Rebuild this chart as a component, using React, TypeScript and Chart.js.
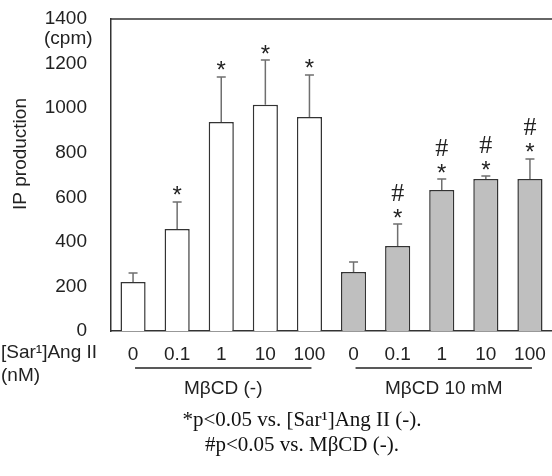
import { useEffect, useRef } from 'react';
import { Chart, registerables } from 'chart.js';

Chart.register(...registerables);

// ---- data ----
const doses = ['0', '0.1', '1', '10', '100', '0', '0.1', '1', '10', '100'];
const ipMeans = [220, 458, 938, 1015, 960, 265, 381, 633, 682, 682];
const ipErrors = [40, 121, 202, 201, 189, 45, 99, 49, 13, 90];
const starFlags = [false, true, true, true, true, false, true, true, true, true];
const hashFlags = [false, false, false, false, false, false, true, true, true, true];
const groupLabels = ['MβCD (-)', 'MβCD 10 mM'];
const groupStarts = [0, 5];
const groupEnds = [4, 9];
const yMin = 0;
const yMax = 1400;
const yStep = 200;
const yTitle = 'IP production';
const yUnit = '(cpm)';
const xTitleLines = ['[Sar¹]Ang II', '(nM)'];
const footnotes = ['*p<0.05 vs. [Sar¹]Ang II (-).', '#p<0.05 vs. MβCD (-).'];

// ---- styles ----
const SANS = '"Liberation Sans", Arial, sans-serif';
const SERIF = '"Liberation Serif", "Times New Roman", serif';
const TEXT = '#222222';
const AXIS = '#333333';
const WHITE_FILL = '#ffffff';
const GRAY_FILL = '#bfbfbf';
const barFills = ipMeans.map((_, i) => (i < 5 ? WHITE_FILL : GRAY_FILL));

function textCentered(ctx: CanvasRenderingContext2D, text: string, x: number, y: number, align: CanvasTextAlign = 'center') {
  ctx.textAlign = align;
  ctx.textBaseline = 'alphabetic';
  const m = ctx.measureText(text);
  const asc = m.actualBoundingBoxAscent;
  const desc = m.actualBoundingBoxDescent;
  ctx.fillText(text, x, y + (asc - desc) / 2);
}

const decorPlugin = {
  id: 'decor',
  afterDatasetsDraw(chart: any) {
    const ctx: CanvasRenderingContext2D = chart.ctx;
    const meta = chart.getDatasetMeta(0);
    const yScale = chart.scales.y;
    ctx.save();
    ctx.strokeStyle = '#6f6f6f';
    ctx.lineWidth = 1.5;
    meta.data.forEach((bar: any, i: number) => {
      const x = bar.x;
      const yTop = yScale.getPixelForValue(ipMeans[i] + ipErrors[i]);
      const yBar = yScale.getPixelForValue(ipMeans[i]);
      ctx.beginPath();
      ctx.moveTo(x, yBar);
      ctx.lineTo(x, yTop);
      ctx.moveTo(x - 4.5, yTop);
      ctx.lineTo(x + 4.5, yTop);
      ctx.stroke();
      ctx.fillStyle = TEXT;
      const starY = yTop - 11;
      if (starFlags[i]) {
        ctx.font = `24px ${SANS}`;
        textCentered(ctx, '*', x, starY);
      }
      if (hashFlags[i]) {
        ctx.font = `26px ${SERIF}`;
        textCentered(ctx, '#', x, starY - 21);
      }
    });
    ctx.restore();
  },
  afterDraw(chart: any) {
    const ctx: CanvasRenderingContext2D = chart.ctx;
    const area = chart.chartArea;
    const meta = chart.getDatasetMeta(0);
    ctx.save();
    ctx.strokeStyle = AXIS;
    ctx.lineWidth = 1.5;
    ctx.beginPath();
    ctx.moveTo(area.left, area.top);
    ctx.lineTo(area.right, area.top);
    ctx.stroke();

    ctx.fillStyle = TEXT;
    ctx.font = `19px ${SANS}`;
    ctx.save();
    ctx.translate(21, 154);
    ctx.rotate(-Math.PI / 2);
    textCentered(ctx, yTitle, 0, 0);
    ctx.restore();
    textCentered(ctx, yUnit, 44, 39, 'left');
    textCentered(ctx, xTitleLines[0], 1, 353, 'left');
    textCentered(ctx, xTitleLines[1], 1, 376, 'left');

    ctx.strokeStyle = TEXT;
    ctx.lineWidth = 1.5;
    groupLabels.forEach((label, g) => {
      const x0 = meta.data[groupStarts[g]].x + 2;
      const x1 = meta.data[groupEnds[g]].x + 2;
      ctx.beginPath();
      ctx.moveTo(x0, 368);
      ctx.lineTo(x1, 368);
      ctx.stroke();
      textCentered(ctx, label, (x0 + x1) / 2, 389);
    });

    ctx.font = `21px ${SERIF}`;
    ctx.fillStyle = '#111111';
    textCentered(ctx, footnotes[0], 302, 421);
    textCentered(ctx, footnotes[1], 302, 446);
    ctx.restore();
  },
};

export default function App() {
  const ref = useRef<HTMLCanvasElement | null>(null);
  useEffect(() => {
    if (!ref.current) return;
    const chart = new Chart(ref.current, {
      type: 'bar',
      data: {
        labels: doses,
        datasets: [
          {
            data: ipMeans,
            backgroundColor: barFills,
            borderColor: AXIS,
            borderWidth: 1.5,
            categoryPercentage: 1,
            barPercentage: 0.57,
          },
        ],
      },
      options: {
        responsive: false,
        animation: false,
        devicePixelRatio: 1,
        layout: { padding: { top: 19, right: 0, bottom: 0, left: 0 } },
        plugins: { legend: { display: false }, tooltip: { enabled: false }, title: { display: false } },
        scales: {
          x: {
            grid: { display: false, drawTicks: false },
            border: { display: true, color: AXIS, width: 1.5 },
            ticks: { font: { family: SANS, size: 19 }, color: TEXT, padding: 12, maxRotation: 0, autoSkip: false },
            afterFit: (s: any) => {
              s.height = 145;
              s.paddingLeft = 0;
              s.paddingRight = 0;
            },
          },
          y: {
            min: yMin,
            max: yMax,
            grid: { display: false, drawTicks: false },
            border: { display: true, color: AXIS, width: 1.5 },
            ticks: {
              stepSize: yStep,
              font: { family: SANS, size: 19 },
              color: TEXT,
              padding: 24,
              callback: (v: any) => String(v),
            },
            afterFit: (s: any) => {
              s.width = 111;
              s.paddingTop = 0;
              s.paddingBottom = 0;
            },
          },
        },
      },
      plugins: [decorPlugin],
    });
    return () => chart.destroy();
  }, []);
  return (
    <div style={{ position: 'fixed', left: 0, top: 0, width: 552, height: 476, background: '#fff' }}>
      <canvas ref={ref} width={552} height={476} style={{ display: 'block', width: 552, height: 476 }} />
    </div>
  );
}
